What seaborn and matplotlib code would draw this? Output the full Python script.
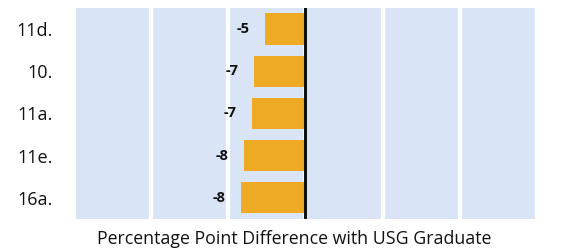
import seaborn as sns
import matplotlib.pyplot as plt
import pandas as pd

# Dados
itens = ['11d.', '10.', '11a.', '11e.', '16a.']
diferencas = [-5.3, -6.7, -6.9, -8.0, -8.4]
rotulos = ['-5', '-7', '-7', '-8', '-8']
ticks_x = [-30, -20, -10, 0, 10, 20, 30]

df = pd.DataFrame({'item': itens, 'diff': diferencas})

sns.set_style('white')
plt.rcParams['font.family'] = ['Open Sans', 'DejaVu Sans']

fig, ax = plt.subplots(figsize=(5.61, 2.48), dpi=100)
fig.subplots_adjust(left=0.132, right=0.957, bottom=0.117, top=0.968)

ax.set_facecolor('#d9e5f6')
sns.barplot(data=df, x='diff', y='item', orient='h', color='#eeaa22',
            width=0.74, saturation=1, linewidth=0, ax=ax)

# Linhas de grade brancas e linha do zero
ax.set_xlim(-30, 30)
ax.set_xticks(ticks_x)
ax.set_xticklabels([])
ax.tick_params(axis='x', length=0, pad=0)
ax.tick_params(axis='y', length=0, labelsize=13, pad=15, labelcolor='#111111')
ax.grid(axis='x', color='white', linewidth=3)
ax.set_axisbelow(True)
ax.axvline(0, color='#111111', linewidth=2.2, zorder=5)

for s in ax.spines.values():
    s.set_visible(False)

# Rótulos dos valores
ax.bar_label(ax.containers[0], labels=rotulos, padding=11,
             fontsize=10.5, fontweight='bold', color='#111111')

ax.set_ylabel('')
ax.set_xlabel('Percentage Point Difference with USG Graduate',
              fontsize=12.8, color='#111111')
ax.xaxis.set_label_coords(0.476, -0.052)

fig.savefig('out.png', dpi=100)
